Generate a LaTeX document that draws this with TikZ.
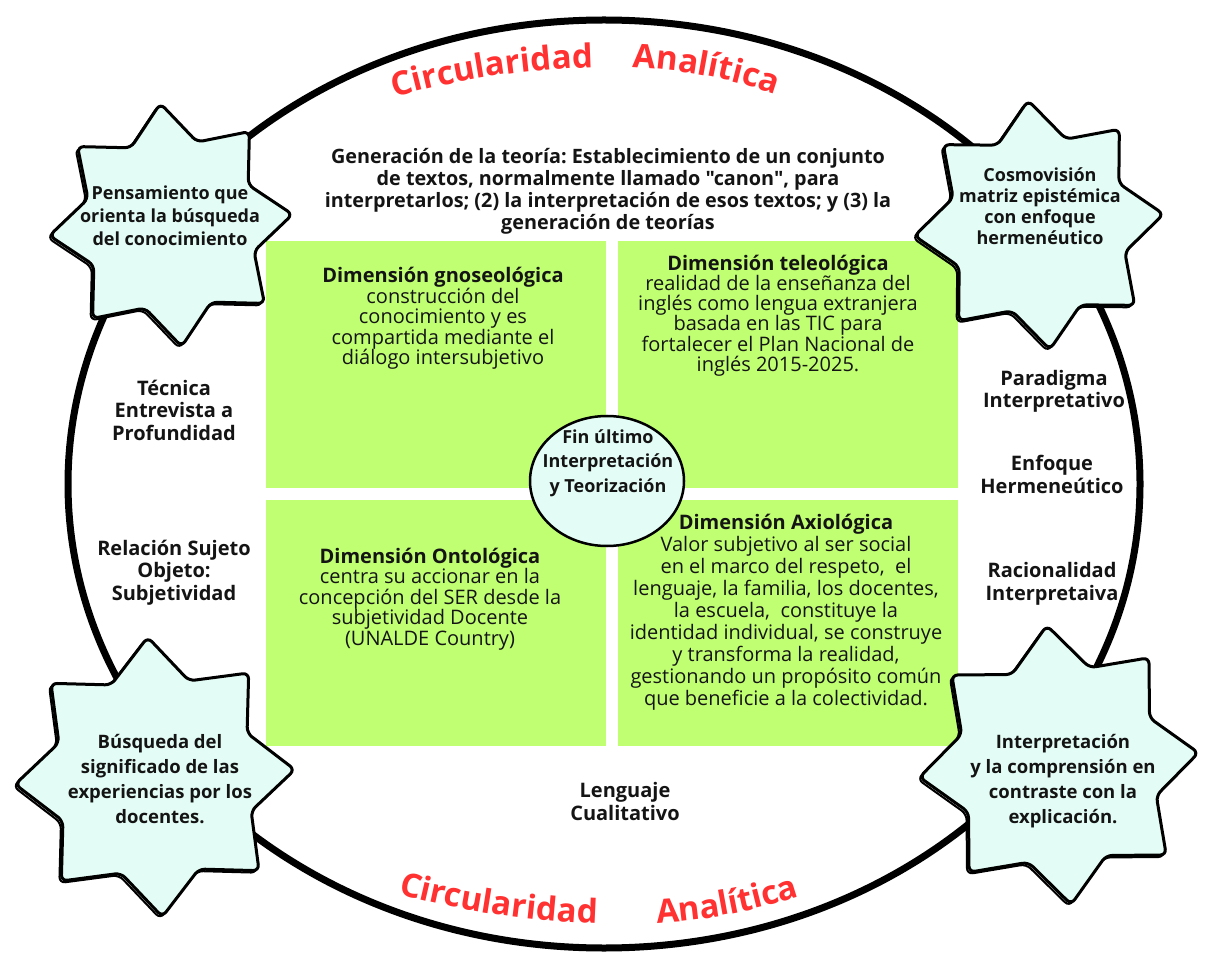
\documentclass[tikz,border=0pt]{standalone}
\usepackage{fontspec}
\setmainfont{Open Sans}[Ligatures=TeXOff]
\usetikzlibrary{calc,decorations.text}
\definecolor{ink}{HTML}{141414}
\definecolor{leaf}{HTML}{C1FF72}
\definecolor{mint}{HTML}{E3FCF5}
\definecolor{titlered}{HTML}{FF3131}
\frenchspacing
\newcommand{\redtitlefont}{\fontsize{33}{40}\selectfont\bfseries}
% #1 style, #2 centre, #3 outer radius, #4 inner radius, #5 angle of first point
\newcommand{\sketchstar}[5]{%
  \draw[#1] ($(#2)+({#5-22.5}:#4)$)
    \foreach \k in {0,...,6} { -- ($(#2)+({#5+\k*45}:#3)$) -- ($(#2)+({#5+\k*45+22.5}:#4)$) }
    -- ($(#2)+({#5+315}:#3)$) -- cycle;}
\begin{document}
\begin{tikzpicture}[x=1pt,y=-1pt,
  quad/.style={rectangle, fill=leaf, draw=none, inner sep=0pt, outer sep=0pt},
  starline/.style={draw=black, line width=3pt, fill=mint, rounded corners=6pt, line join=round},
  starshadow/.style={draw=black, line width=2pt, rounded corners=6pt, line join=round},
  startext/.style={font=\bfseries\fontsize{18}{23}\selectfont, align=center, text=ink, anchor=base, inner sep=0pt},
  sidelabel/.style={font=\bfseries\fontsize{20}{22.5}\selectfont, align=center, text=ink, anchor=base, inner sep=0pt},
  bodytext/.style={font=\fontsize{20}{20.5}\selectfont, align=center, text=ink, anchor=base, inner sep=0pt},
  redword/.style={decorate, decoration={text along path, text={|\redtitlefont|#1}, text color=titlered}}
]
\useasboundingbox (0,0) rectangle (1205,957);
\fill[white] (0,0) rectangle (1205,957);

% outer ring
\coordinate (ringc) at (604,484);
\draw[line width=7pt] (ringc) ellipse [x radius=536, y radius=464];

% green quadrants
\node[quad, minimum width=340pt, minimum height=247pt] (qtl) at (436,364.5) {};
\node[quad, minimum width=340pt, minimum height=247pt] (qtr) at (788,364.5) {};
\node[quad, minimum width=340pt, minimum height=246pt] (qbl) at (436,623) {};
\node[quad, minimum width=340pt, minimum height=246pt] (qbr) at (788,623) {};

% centre
\coordinate (corec) at (607,481);
\draw[line width=2.5pt, fill=mint] (corec) ellipse [x radius=77, y radius=65];
\node[startext, font=\bfseries\fontsize{18}{24.5}\selectfont] (coretext) at (608,492) {Fin último\\Interpretación\\y Teorización};

% stars
\coordinate (s1) at (171,225);
\coordinate (s2) at (1039,225);
\coordinate (s3) at (155,777);
\coordinate (s4) at (1059,765);
\sketchstar{starshadow}{$(s1)+(-2,2)$}{122}{87}{-95}
\sketchstar{starline}{s1}{122}{87}{-95}
\sketchstar{starshadow}{$(s2)+(-2,2)$}{125}{90}{-95}
\sketchstar{starline}{s2}{125}{90}{-95}
\sketchstar{starshadow}{$(s3)+(-2,2)$}{140}{102}{-93}
\sketchstar{starline}{s3}{140}{102}{-93}
\sketchstar{starshadow}{$(s4)+(-2,2)$}{140}{102}{-95}
\sketchstar{starline}{s4}{140}{102}{-95}

\node[startext] (s1t) at (170,246) {Pensamiento que\\orienta la búsqueda\\del conocimiento};
\node[startext, font=\bfseries\fontsize{18}{21}\selectfont] (s2t) at (1040,245) {Cosmovisión\\matriz epistémica\\con enfoque\\hermenéutico};
\node[startext, font=\bfseries\fontsize{18.5}{25}\selectfont] (s3t) at (160,823) {Búsqueda del\\significado de las\\experiencias por los\\docentes.};
\node[startext, font=\bfseries\fontsize{18.5}{25}\selectfont] (s4t) at (1063,823) {Interpretación\\y la comprensión en\\contraste con la\\explicación.};

% top text
\node[sidelabel, font=\bfseries\fontsize{19.8}{22}\selectfont] (theory) at (608,230) {Generación de la teoría: Establecimiento de un conjunto\\de textos, normalmente llamado "canon", para\\interpretarlos; (2) la interpretación de esos textos; y (3) la\\generación de teorías};

% quadrant texts
\node[bodytext] (dtl) at (443,365) {{\bfseries Dimensión gnoseológica}\\construcción del\\conocimiento y es\\compartida mediante el\\diálogo intersubjetivo};
\node[bodytext, font=\fontsize{20}{20}\selectfont] (dtr) at (778,372) {{\bfseries Dimensión teleológica}\\realidad de la enseñanza del\\inglés como lengua extranjera\\basada en las TIC para\\fortalecer el Plan Nacional de\\inglés 2015-2025.};
\node[bodytext] (dbl) at (430,645) {{\bfseries Dimensión Ontológica}\\centra su accionar en la\\concepción del SER desde la\\subjetividad Docente\\(UNALDE Country)};
\node[bodytext, font=\fontsize{20}{22}\selectfont] (dbr) at (786,705) {{\bfseries Dimensión Axiológica}\\Valor subjetivo al ser social\\en el marco del respeto,\ \ el\\lenguaje, la familia, los docentes,\\la escuela,\ \ constituye la\\identidad individual, se construye\\y transforma la realidad,\\gestionando un propósito común\\que beneficie a la colectividad.};

% side labels
\node[sidelabel] (tec) at (174,440) {Técnica\\Entrevista a\\Profundidad};
\node[sidelabel] (rel) at (174,600) {Relación Sujeto\\Objeto:\\Subjetividad};
\node[sidelabel] (par) at (1054,408) {Paradigma\\Interpretativo};
\node[sidelabel] (enf) at (1052,493) {Enfoque\\Hermeneútico};
\node[sidelabel] (rac) at (1052,600) {Racionalidad\\Interpretaiva};
\node[sidelabel] (len) at (625,820) {Lenguaje\\Cualitativo};

% curved red titles
\path[redword=Circularidad, decoration={text align=right}] ([shift={(-120:800)}]613,867) arc[start angle=-120, end angle=-91.43, radius=800];
\path[redword=Analítica, decoration={text align=left}] ([shift={(-87.71:500)}]613,567) arc[start angle=-87.71, end angle=-55, radius=500];
\path[redword=Circularidad, decoration={text align=right}] ([shift={(125:900)}]627,24) arc[start angle=125, end angle=91.91, radius=900];
\path[redword=Analítica, decoration={text align=left}] ([shift={(86.87:550)}]627,374) arc[start angle=86.87, end angle=55, radius=550];
\end{tikzpicture}
\end{document}
